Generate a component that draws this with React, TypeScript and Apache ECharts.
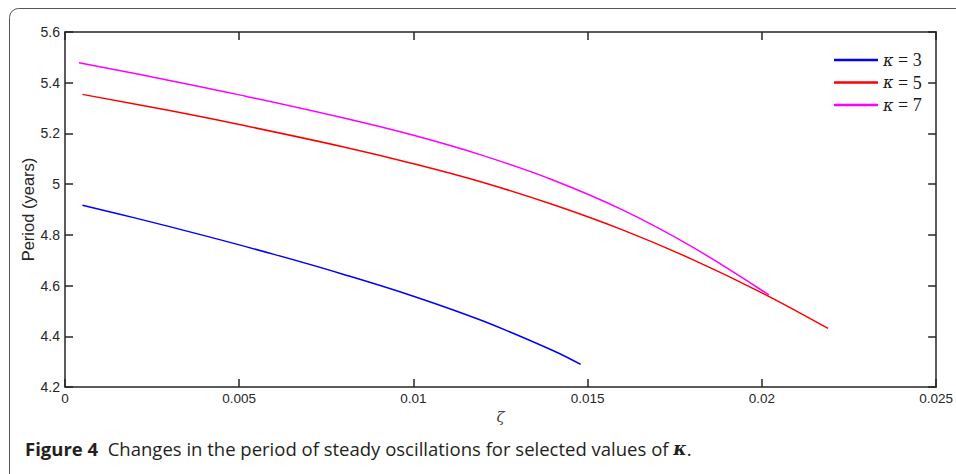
import React, { useEffect, useRef } from "react";
import * as echarts from "echarts";

const xTicks = { min: 0, max: 0.025, interval: 0.005 };
const yTicks = { min: 4.2, max: 5.6, interval: 0.2 };

const seriesNames = ["κ = 3", "κ = 5", "κ = 7"];
const seriesColors = ["#0000ff", "#ff0000", "#ff00ff"];

const kappa3: [number, number][] = [
  [0.0005, 4.917],
  [0.002, 4.867],
  [0.004, 4.797],
  [0.006, 4.723],
  [0.008, 4.644],
  [0.01, 4.558],
  [0.012, 4.46],
  [0.014, 4.344],
  [0.0148, 4.289],
];

const kappa5: [number, number][] = [
  [0.0005, 5.354],
  [0.003, 5.29],
  [0.005, 5.235],
  [0.008, 5.1465],
  [0.01, 5.0805],
  [0.012, 5.0065],
  [0.014, 4.9195],
  [0.016, 4.8195],
  [0.018, 4.7035],
  [0.02, 4.5715],
  [0.0219, 4.431],
];

const kappa7: [number, number][] = [
  [0.0004, 5.479],
  [0.003, 5.409],
  [0.005, 5.352],
  [0.008, 5.2605],
  [0.01, 5.1925],
  [0.012, 5.1125],
  [0.014, 5.0165],
  [0.016, 4.8985],
  [0.018, 4.7525],
  [0.0202, 4.563],
];

const seriesData = [kappa3, kappa5, kappa7];

const xName = "ζ";
const yName = "Period (years)";
const captionBold = "Figure 4";
const captionText = "  Changes in the period of steady oscillations for selected values of ";

const sansFont = "Liberation Sans, Arial, Helvetica, sans-serif";

export default function App() {
  const ref = useRef<HTMLDivElement>(null);
  useEffect(() => {
    document.body.style.margin = "0";
    const chart = echarts.init(ref.current!, null, { renderer: "svg" });
    const axisLineStyle = { color: "#262626", width: 1.5 };
    const tickStyle = { show: true, inside: true, length: 8, lineStyle: { color: "#262626", width: 1.5 } };
    chart.setOption({
      animation: false,
      backgroundColor: "#ffffff",
      grid: { left: 65, top: 32, right: 18, bottom: 87, containLabel: false },
      legend: {
        orient: "vertical",
        left: 829,
        top: 46,
        icon: "rect",
        itemWidth: 44,
        itemHeight: 2.5,
        itemGap: 4.5,
        data: seriesNames,
        formatter: (name: string) => {
          const rest = name.replace("κ", "");
          return `{k|κ}{n|${rest}}`;
        },
        textStyle: {
          padding: [0, 0, 0, 0],
          rich: {
            k: { fontFamily: "DejaVu Serif", fontStyle: "italic", fontSize: 16, color: "#1a1a1a", lineHeight: 18 },
            n: { fontFamily: "Liberation Serif", fontSize: 18, color: "#1a1a1a", lineHeight: 18 },
          },
        },
      },
      xAxis: [
        {
          type: "value",
          position: "bottom",
          min: xTicks.min,
          max: xTicks.max,
          interval: xTicks.interval,
          name: xName,
          nameLocation: "middle",
          nameGap: 17,
          nameTextStyle: { fontFamily: "DejaVu Serif", fontStyle: "italic", fontSize: 15, color: "#444", verticalAlign: "top" },
          axisLine: { show: true, onZero: false, lineStyle: axisLineStyle },
          axisTick: tickStyle,
          splitLine: { show: false },
          axisLabel: { fontFamily: sansFont, fontSize: 13.5, color: "#262626", margin: 4 },
        },
        {
          type: "value",
          position: "top",
          min: xTicks.min,
          max: xTicks.max,
          interval: xTicks.interval,
          axisLine: { show: true, onZero: false, lineStyle: axisLineStyle },
          axisTick: tickStyle,
          splitLine: { show: false },
          axisLabel: { show: false },
        },
      ],
      yAxis: [
        {
          type: "value",
          position: "left",
          min: yTicks.min,
          max: yTicks.max,
          interval: yTicks.interval,
          name: yName,
          nameLocation: "middle",
          nameGap: 29,
          nameMoveOverlap: false,
          nameTextStyle: { fontFamily: sansFont, fontSize: 16.5, color: "#262626" },
          axisLine: { show: true, onZero: false, lineStyle: axisLineStyle },
          axisTick: tickStyle,
          splitLine: { show: false },
          axisLabel: { fontFamily: sansFont, fontSize: 14, color: "#262626", margin: 5 },
        },
        {
          type: "value",
          position: "right",
          min: yTicks.min,
          max: yTicks.max,
          interval: yTicks.interval,
          axisLine: { show: true, onZero: false, lineStyle: axisLineStyle },
          axisTick: tickStyle,
          splitLine: { show: false },
          axisLabel: { show: false },
        },
      ],
      series: seriesNames.map((n, i) => ({
        name: n,
        type: "line",
        xAxisIndex: 0,
        yAxisIndex: 0,
        data: seriesData[i],
        smooth: 0.4,
        symbol: "none",
        lineStyle: { color: seriesColors[i], width: 1.5 },
        itemStyle: { color: seriesColors[i] },
      })),
      graphic: [
        {
          type: "rect",
          shape: { x: 9.5, y: 8.5, width: 980, height: 500, r: 9 },
          style: { fill: "none", stroke: "#555", lineWidth: 1 },
          silent: true,
        },
        {
          type: "text",
          left: 25,
          top: 439,
          style: {
            text: `{b|${captionBold}}{n|${captionText}}{k|κ}{n|.}`,
            rich: {
              b: { fontFamily: "Open Sans", fontWeight: "bold", fontSize: 18.5, fill: "#231f20" },
              n: { fontFamily: "Open Sans", fontSize: 18.5, fill: "#231f20" },
              k: { fontFamily: "DejaVu Serif", fontStyle: "italic", fontWeight: "bold", fontSize: 18, fill: "#231f20" },
            },
          },
        },
      ],
    });
    return () => chart.dispose();
  }, []);
  return <div ref={ref} style={{ width: 956, height: 474 }} />;
}
